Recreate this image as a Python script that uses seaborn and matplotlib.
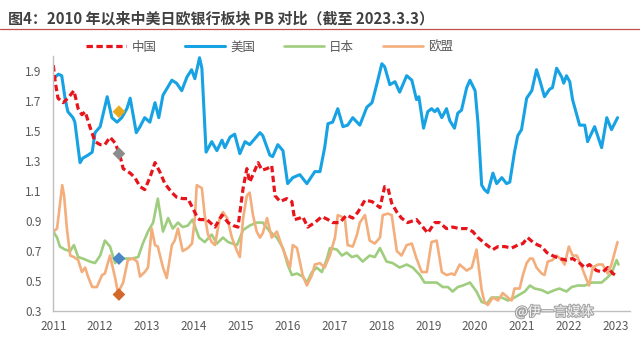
import numpy as np
import pandas as pd
import matplotlib
matplotlib.use("Agg")
import matplotlib.pyplot as plt
import matplotlib.patheffects as pe
from matplotlib.lines import Line2D
import seaborn as sns

# ---- banking sector P/B ratios (time in fractional years) ----
cn_t = [2011.00, 2011.04, 2011.10, 2011.21, 2011.31, 2011.44, 2011.53, 2011.61, 2011.68, 2011.78,
        2011.89, 2012.00, 2012.10, 2012.21, 2012.32, 2012.42, 2012.49, 2012.64, 2012.74, 2012.85,
        2012.95, 2013.06, 2013.17, 2013.27, 2013.38, 2013.53, 2013.63, 2013.76, 2013.87, 2013.97,
        2014.08, 2014.12, 2014.28, 2014.45, 2014.60, 2014.73, 2014.84, 2014.94, 2015.05, 2015.13,
        2015.19, 2015.26, 2015.37, 2015.45, 2015.56, 2015.66, 2015.73, 2015.84, 2015.98, 2016.09,
        2016.15, 2016.26, 2016.32, 2016.43, 2016.58, 2016.73, 2016.86, 2016.96, 2017.11, 2017.26,
        2017.39, 2017.50, 2017.65, 2017.80, 2017.97, 2018.07, 2018.14, 2018.22, 2018.33, 2018.43,
        2018.56, 2018.75, 2018.86, 2018.99, 2019.14, 2019.24, 2019.39, 2019.52, 2019.67, 2019.82,
        2019.95, 2020.06, 2020.25, 2020.38, 2020.49, 2020.63, 2020.78, 2020.91, 2021.02, 2021.12,
        2021.23, 2021.34, 2021.42, 2021.53, 2021.65, 2021.80, 2021.95, 2022.08, 2022.23, 2022.34,
        2022.44, 2022.59, 2022.72, 2022.83, 2022.94, 2023.04]
cn_pb = [1.94, 1.83, 1.72, 1.69, 1.72, 1.77, 1.65, 1.61, 1.63, 1.53,
         1.43, 1.41, 1.41, 1.46, 1.42, 1.34, 1.25, 1.22, 1.19, 1.13,
         1.11, 1.19, 1.29, 1.23, 1.15, 1.09, 1.06, 1.05, 1.05, 0.99,
         0.92, 0.91, 0.91, 0.86, 0.94, 0.89, 0.87, 0.86, 1.12, 1.25,
         1.16, 1.21, 1.29, 1.24, 1.25, 1.27, 1.07, 1.03, 1.05, 1.03,
         0.91, 0.92, 0.93, 0.86, 0.89, 0.93, 0.91, 0.89, 0.89, 0.94,
         0.92, 0.96, 1.04, 1.03, 0.99, 1.13, 1.12, 1.02, 0.96, 0.92,
         0.89, 0.91, 0.87, 0.82, 0.89, 0.89, 0.85, 0.86, 0.85, 0.85,
         0.83, 0.79, 0.74, 0.71, 0.73, 0.73, 0.72, 0.74, 0.75, 0.79,
         0.76, 0.74, 0.73, 0.69, 0.67, 0.65, 0.64, 0.65, 0.62, 0.59,
         0.61, 0.57, 0.56, 0.59, 0.55, 0.53]

us_t = [2011.00, 2011.11, 2011.18, 2011.25, 2011.31, 2011.42, 2011.46, 2011.57, 2011.63, 2011.74,
        2011.83, 2011.89, 2012.00, 2012.06, 2012.15, 2012.25, 2012.36, 2012.46, 2012.57, 2012.64,
        2012.77, 2012.85, 2012.95, 2013.06, 2013.17, 2013.25, 2013.34, 2013.53, 2013.63, 2013.74,
        2013.85, 2013.95, 2014.02, 2014.12, 2014.17, 2014.26, 2014.38, 2014.49, 2014.60, 2014.66,
        2014.77, 2014.87, 2014.98, 2015.09, 2015.19, 2015.30, 2015.41, 2015.47, 2015.62, 2015.68,
        2015.79, 2015.90, 2016.00, 2016.11, 2016.26, 2016.41, 2016.58, 2016.69, 2016.79, 2016.86,
        2016.96, 2017.07, 2017.18, 2017.28, 2017.39, 2017.54, 2017.69, 2017.80, 2017.90, 2018.01,
        2018.07, 2018.18, 2018.29, 2018.39, 2018.54, 2018.65, 2018.75, 2018.80, 2018.90, 2018.99,
        2019.07, 2019.14, 2019.20, 2019.29, 2019.39, 2019.46, 2019.56, 2019.63, 2019.71, 2019.82,
        2019.89, 2020.00, 2020.06, 2020.14, 2020.20, 2020.27, 2020.38, 2020.46, 2020.57, 2020.67,
        2020.74, 2020.84, 2020.91, 2020.99, 2021.10, 2021.21, 2021.31, 2021.38, 2021.48, 2021.59,
        2021.65, 2021.74, 2021.85, 2021.89, 2021.95, 2022.02, 2022.08, 2022.23, 2022.34, 2022.40,
        2022.55, 2022.70, 2022.81, 2022.91, 2023.04]
us_pb = [1.85, 1.88, 1.87, 1.72, 1.63, 1.59, 1.56, 1.29, 1.32, 1.34,
         1.36, 1.49, 1.53, 1.61, 1.73, 1.59, 1.56, 1.59, 1.65, 1.72,
         1.49, 1.53, 1.59, 1.56, 1.69, 1.59, 1.74, 1.84, 1.82, 1.77,
         1.86, 1.91, 1.85, 1.99, 1.92, 1.36, 1.43, 1.37, 1.44, 1.39,
         1.46, 1.48, 1.35, 1.43, 1.41, 1.45, 1.49, 1.47, 1.34, 1.33,
         1.41, 1.37, 1.15, 1.19, 1.21, 1.15, 1.23, 1.23, 1.39, 1.55,
         1.56, 1.65, 1.53, 1.54, 1.59, 1.54, 1.66, 1.69, 1.81, 1.95,
         1.93, 1.81, 1.83, 1.76, 1.87, 1.84, 1.71, 1.73, 1.52, 1.63,
         1.65, 1.63, 1.65, 1.59, 1.65, 1.57, 1.52, 1.62, 1.64, 1.79,
         1.84, 1.77, 1.56, 1.14, 1.11, 1.09, 1.22, 1.15, 1.19, 1.15,
         1.16, 1.36, 1.47, 1.51, 1.72, 1.77, 1.91, 1.84, 1.73, 1.78,
         1.79, 1.92, 1.86, 1.82, 1.87, 1.83, 1.71, 1.54, 1.54, 1.43,
         1.53, 1.39, 1.59, 1.51, 1.59]

jp_t = [2011.00, 2011.08, 2011.14, 2011.25, 2011.36, 2011.44, 2011.53, 2011.63, 2011.78, 2011.89,
        2012.00, 2012.10, 2012.21, 2012.32, 2012.42, 2012.53, 2012.68, 2012.81, 2012.91, 2013.02,
        2013.13, 2013.23, 2013.34, 2013.45, 2013.55, 2013.66, 2013.76, 2013.87, 2013.97, 2014.11,
        2014.23, 2014.38, 2014.49, 2014.62, 2014.73, 2014.92, 2015.05, 2015.19, 2015.34, 2015.47,
        2015.62, 2015.77, 2015.90, 2016.00, 2016.09, 2016.20, 2016.32, 2016.41, 2016.52, 2016.62,
        2016.73, 2016.84, 2016.90, 2017.05, 2017.16, 2017.26, 2017.37, 2017.48, 2017.60, 2017.75,
        2017.86, 2017.97, 2018.11, 2018.24, 2018.39, 2018.54, 2018.67, 2018.82, 2018.92, 2019.07,
        2019.18, 2019.31, 2019.42, 2019.52, 2019.63, 2019.74, 2019.89, 2020.03, 2020.14, 2020.25,
        2020.35, 2020.46, 2020.57, 2020.70, 2020.84, 2020.95, 2021.06, 2021.17, 2021.27, 2021.42,
        2021.55, 2021.70, 2021.80, 2021.95, 2022.06, 2022.19, 2022.34, 2022.49, 2022.59, 2022.70,
        2022.81, 2022.91, 2023.02, 2023.06]
jp_pb = [0.83, 0.79, 0.73, 0.71, 0.70, 0.74, 0.66, 0.65, 0.63, 0.62,
         0.67, 0.77, 0.73, 0.62, 0.66, 0.65, 0.65, 0.66, 0.75, 0.83,
         0.89, 1.05, 0.83, 0.92, 0.85, 0.89, 0.86, 0.87, 0.91, 0.79,
         0.76, 0.81, 0.75, 0.79, 0.76, 0.74, 0.84, 0.87, 0.89, 0.89,
         0.83, 0.79, 0.72, 0.61, 0.54, 0.55, 0.53, 0.49, 0.56, 0.59,
         0.56, 0.65, 0.72, 0.71, 0.67, 0.69, 0.66, 0.67, 0.63, 0.67,
         0.66, 0.72, 0.63, 0.62, 0.59, 0.61, 0.59, 0.54, 0.49, 0.49,
         0.49, 0.46, 0.46, 0.43, 0.46, 0.47, 0.49, 0.43, 0.36, 0.35,
         0.39, 0.39, 0.39, 0.37, 0.39, 0.41, 0.43, 0.47, 0.45, 0.44,
         0.42, 0.44, 0.45, 0.43, 0.46, 0.47, 0.47, 0.49, 0.49, 0.49,
         0.52, 0.55, 0.64, 0.61]

eu_t = [2011.00, 2011.08, 2011.19, 2011.23, 2011.29, 2011.36, 2011.44, 2011.53, 2011.61, 2011.68,
        2011.74, 2011.83, 2011.93, 2012.04, 2012.10, 2012.21, 2012.32, 2012.38, 2012.49, 2012.59,
        2012.70, 2012.79, 2012.85, 2012.95, 2013.02, 2013.10, 2013.17, 2013.23, 2013.34, 2013.42,
        2013.53, 2013.59, 2013.66, 2013.76, 2013.87, 2013.96, 2014.02, 2014.06, 2014.17, 2014.23,
        2014.30, 2014.38, 2014.45, 2014.55, 2014.62, 2014.71, 2014.81, 2014.92, 2014.98, 2015.05,
        2015.13, 2015.19, 2015.26, 2015.34, 2015.41, 2015.47, 2015.56, 2015.66, 2015.77, 2015.88,
        2015.98, 2016.05, 2016.11, 2016.20, 2016.32, 2016.41, 2016.52, 2016.58, 2016.69, 2016.79,
        2016.90, 2017.01, 2017.07, 2017.22, 2017.28, 2017.39, 2017.48, 2017.54, 2017.65, 2017.75,
        2017.86, 2017.97, 2018.03, 2018.14, 2018.22, 2018.33, 2018.43, 2018.54, 2018.65, 2018.75,
        2018.86, 2018.97, 2019.07, 2019.18, 2019.29, 2019.39, 2019.50, 2019.56, 2019.67, 2019.82,
        2019.93, 2020.03, 2020.14, 2020.20, 2020.27, 2020.38, 2020.49, 2020.59, 2020.70, 2020.78,
        2020.84, 2020.95, 2021.02, 2021.10, 2021.17, 2021.23, 2021.31, 2021.42, 2021.48, 2021.55,
        2021.65, 2021.74, 2021.85, 2021.91, 2022.00, 2022.08, 2022.17, 2022.28, 2022.34, 2022.43,
        2022.51, 2022.62, 2022.72, 2022.83, 2022.91, 2023.02, 2023.04]
eu_pb = [0.83, 0.85, 1.14, 1.07, 0.85, 0.67, 0.66, 0.64, 0.56, 0.59,
         0.53, 0.46, 0.46, 0.54, 0.55, 0.67, 0.52, 0.42, 0.49, 0.64,
         0.65, 0.63, 0.53, 0.56, 0.59, 0.85, 0.74, 0.73, 0.59, 0.52,
         0.74, 0.77, 0.85, 0.70, 0.72, 0.75, 0.92, 1.14, 1.12, 0.94,
         0.81, 0.76, 0.74, 0.92, 0.96, 0.92, 0.79, 0.70, 0.66, 0.92,
         1.07, 1.09, 0.94, 0.83, 0.79, 0.82, 0.92, 0.79, 0.83, 0.73,
         0.65, 0.59, 0.74, 0.72, 0.54, 0.47, 0.54, 0.61, 0.62, 0.59,
         0.67, 0.79, 0.94, 0.92, 0.74, 0.73, 0.81, 0.89, 0.94, 0.77,
         0.75, 0.79, 0.94, 0.95, 0.94, 0.70, 0.67, 0.74, 0.75, 0.65,
         0.56, 0.56, 0.76, 0.77, 0.56, 0.54, 0.55, 0.54, 0.61, 0.57,
         0.59, 0.71, 0.44, 0.36, 0.34, 0.39, 0.37, 0.42, 0.39, 0.37,
         0.45, 0.45, 0.54, 0.62, 0.65, 0.65, 0.59, 0.55, 0.54, 0.63,
         0.64, 0.67, 0.64, 0.61, 0.73, 0.67, 0.67, 0.59, 0.54, 0.47,
         0.59, 0.61, 0.61, 0.55, 0.61, 0.74, 0.76]

# highlighted points (mid-2012)
mark_t = [2012.40, 2012.40, 2012.40, 2012.40]
mark_pb = [1.63, 1.35, 0.65, 0.41]
mark_colors = ["#E9AA1C", "#8C8C8C", "#4A86C8", "#D2692A"]

regions = ["中国", "美国", "日本", "欧盟"]
series = {"中国": (cn_t, cn_pb), "美国": (us_t, us_pb),
          "日本": (jp_t, jp_pb), "欧盟": (eu_t, eu_pb)}
df = pd.concat([pd.DataFrame({"year": t, "pb": v, "region": r})
                for r, (t, v) in series.items()], ignore_index=True)

colors = {"中国": "#E8141B", "美国": "#17A2E4", "日本": "#9FCD7E", "欧盟": "#F3AE7C"}
widths = {"中国": 2.3, "美国": 2.2, "日本": 1.9, "欧盟": 1.9}
styles = {"中国": (0, (2.0, 1.1)), "美国": "-", "日本": "-", "欧盟": "-"}
year_ticks = list(range(2011, 2024))
pb_ticks = [0.3, 0.5, 0.7, 0.9, 1.1, 1.3, 1.5, 1.7, 1.9]

sns.set_theme(style="white")
plt.rcParams["font.family"] = ["Noto Sans CJK SC", "DejaVu Sans"]
grey = "#595959"

fig = plt.figure(figsize=(6.4, 3.42), dpi=100)
ax = fig.add_axes([0.0833, 0.0906, 0.9007, 0.745])

# draw order: Japan / EU below, then US, China on top
for r in ["日本", "欧盟", "美国", "中国"]:
    sub = df[df["region"] == r]
    sns.lineplot(data=sub, x="year", y="pb", ax=ax, color=colors[r],
                 linewidth=widths[r], linestyle=styles[r], label=None,
                 solid_joinstyle="round", solid_capstyle="round",
                 dash_capstyle="butt")

marks = pd.DataFrame({"year": mark_t, "pb": mark_pb, "c": mark_colors})
sns.scatterplot(data=marks, x="year", y="pb", hue="c", palette=dict(zip(mark_colors, mark_colors)),
                marker="D", s=42, edgecolor="none", legend=False, ax=ax, zorder=5)

ax.set_xlim(2011, 2023.3)
ax.set_ylim(0.3, 2.0)
ax.set_xticks(year_ticks)
ax.set_xticklabels([str(y) for y in year_ticks])
ax.set_yticks(pb_ticks)
ax.set_yticklabels([f"{v:.1f}" for v in pb_ticks])
ax.set_xlabel("")
ax.set_ylabel("")
for s in ["top", "right"]:
    ax.spines[s].set_visible(False)
for s in ["left", "bottom"]:
    ax.spines[s].set_color("#BFBFBF")
    ax.spines[s].set_linewidth(1.0)
ax.tick_params(axis="both", which="major", direction="out", length=3.5, width=1.0,
               color="#BFBFBF", labelcolor=grey, labelsize=8.5)
ax.tick_params(axis="y", pad=5)
ax.tick_params(axis="x", pad=3)
ax.grid(False)
if ax.get_legend() is not None:
    ax.get_legend().remove()

# legend
handles = [Line2D([], [], color=colors[r], linewidth=widths[r], linestyle=styles[r])
           for r in regions]
fig.legend(handles, regions, loc="center", bbox_to_anchor=(0.421, 0.862), ncol=4,
           frameon=False, fontsize=9, handlelength=3.2, handletextpad=0.4,
           columnspacing=2.3, labelcolor=grey)

# title with rule underneath
fig.text(0.012, 0.947, "图4：2010 年以来中美日欧银行板块 PB 对比（截至 2023.3.3）",
         fontsize=10.8, fontweight="bold", color="#404040", ha="left", va="center")
fig.add_artist(Line2D([0.0, 1.0], [0.914, 0.914], color="#C0504D", linewidth=0.9,
                      transform=fig.transFigure))

# source mark
fig.text(0.805, 0.088, "@伊一言媒体", fontsize=9.5, color="white", alpha=0.9,
         ha="left", va="center",
         path_effects=[pe.withStroke(linewidth=1.6, foreground="#9a9a9a")])

fig.savefig("out.png", dpi=100)
